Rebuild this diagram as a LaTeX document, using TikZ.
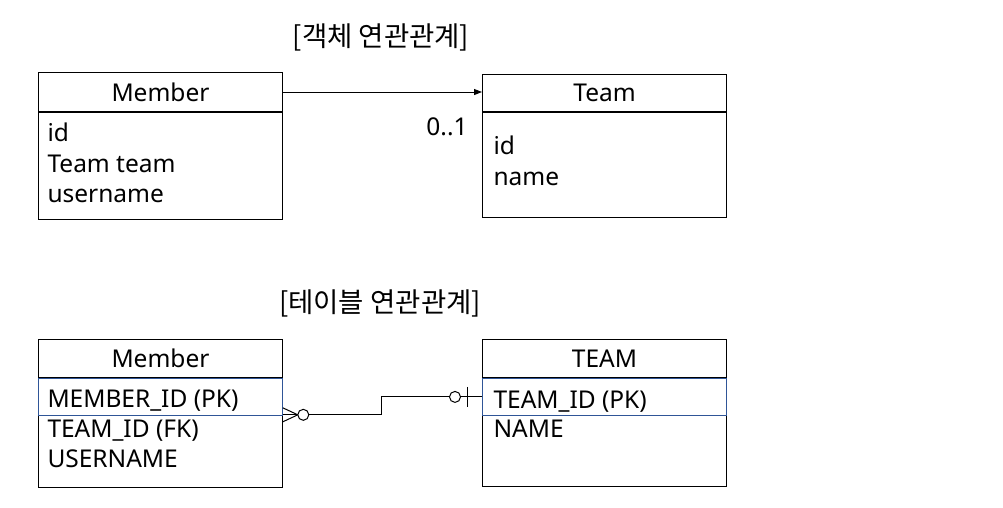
\documentclass[tikz,border=0pt]{standalone}
\usepackage{fontspec}
\setmainfont{Noto Sans}
\newfontfamily\kofont{Noto Sans CJK KR}
\usetikzlibrary{positioning,arrows.meta,calc}
\definecolor{pkblue}{RGB}{47,85,151}

\begin{document}
\begin{tikzpicture}[x=1pt, y=-1pt, line width=1pt,
    head/.style={draw, anchor=north west, minimum width=244pt, inner sep=0pt, font=\fontsize{24.5}{24}\selectfont},
    body/.style={draw, anchor=north west, minimum width=244pt, inner sep=0pt},
    attr/.style={anchor=base west, inner sep=0pt, font=\fontsize{24.5}{24}\selectfont},
    pkrow/.style={draw=pkblue, line width=0.8pt, anchor=north west, minimum width=244pt, minimum height=37pt, inner sep=0pt},
    title/.style={font=\kofont\fontsize{27.5}{27}\selectfont},
    arr/.style={-{Triangle[length=8pt,width=6pt]}}]
\useasboundingbox (0,0) rectangle (1003,507);

% --- object model
\node[title] (objtitle) at (381,37) {[객체 연관관계]};

\node[head, minimum height=39pt] (member) at (38,72) {Member};
\node[body, minimum height=107pt] (memberbody) at (member.south west) {};
\node[attr] (mid) at (47,141) {id};
\node[attr] (mteam) at (47,172) {Team team};
\node[attr] (mname) at (47,202) {username};

\node[head, minimum height=37pt] (team) at (482,74) {Team};
\node[body, minimum height=105pt] (teambody) at (team.south west) {};
\node[attr] (tid) at (493,154) {id};
\node[attr] (tname) at (493,185) {name};

\draw[arr] (member.east) -- (member.east -| team.west);
\node[font=\fontsize{24.5}{24}\selectfont] (mult) at (447,127) {0..1};

% --- table model
\node[title] (tabtitle) at (380,303) {[테이블 연관관계]};

\node[head, minimum height=38pt] (mtable) at (38,339) {Member};
\node[body, minimum height=109pt] (mtablebody) at (mtable.south west) {};
\node[pkrow] (mpk) at (mtable.south west) {};
\node[attr] (mcol1) at (47,407) {MEMBER\_ID (PK)};
\node[attr] (mcol2) at (47,437) {TEAM\_ID (FK)};
\node[attr] (mcol3) at (47,467) {USERNAME};

\node[head, minimum height=38pt] (ttable) at (482,339) {TEAM};
\node[body, minimum height=108pt] (ttablebody) at (ttable.south west) {};
\node[pkrow] (tpk) at (ttable.south west) {};
\node[attr] (tcol1) at (493,408) {TEAM\_ID (PK)};
\node[attr] (tcol2) at (493,437) {NAME};

% relation: zero or many -- zero or one
\coordinate (fk) at ([yshift=1pt]mpk.south east);
\draw (fk) -- ++(99,0) |- (tpk.west);
\draw ($(fk)+(0,-7)$) -- ($(fk)+(15,0)$) -- ($(fk)+(0,7)$);
\draw[fill=white] ($(fk)+(20.5,0)$) circle (5.5pt);
\draw[fill=white] ($(tpk.west)+(-27,0)$) circle (5.5pt);
\draw ($(tpk.west)+(-15,-10)$) -- ($(tpk.west)+(-15,10)$);
\end{tikzpicture}
\end{document}
